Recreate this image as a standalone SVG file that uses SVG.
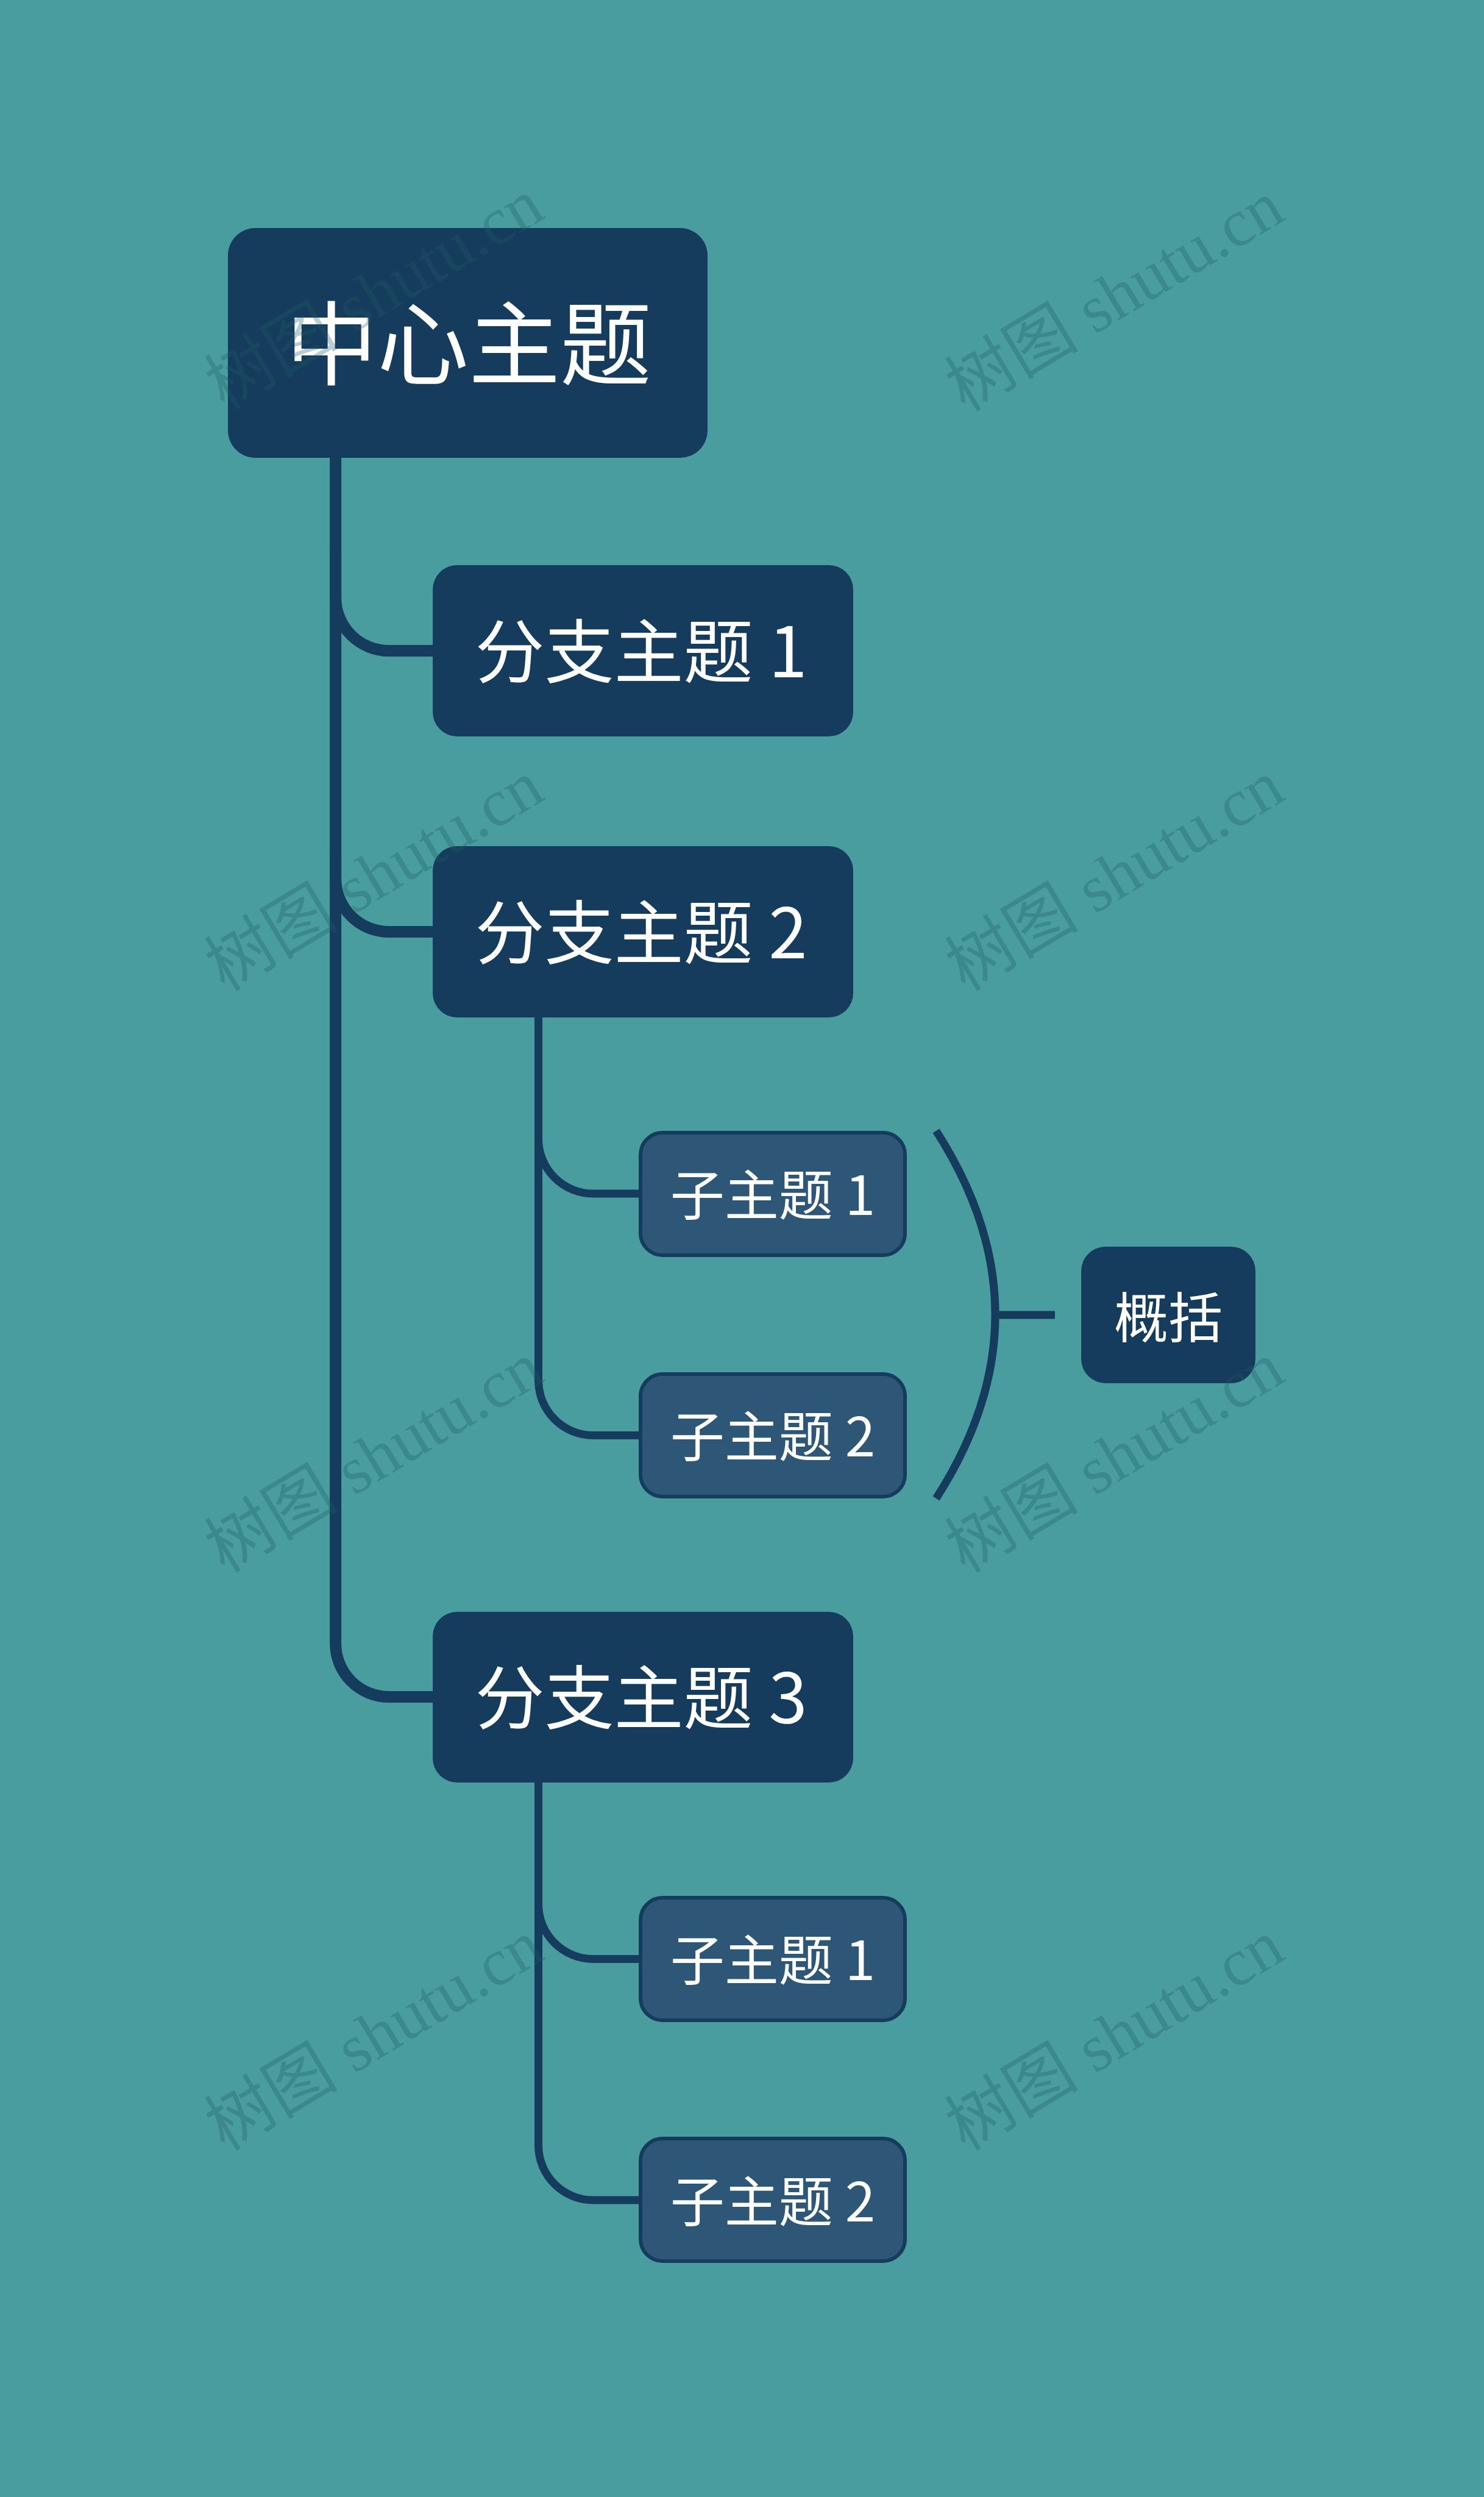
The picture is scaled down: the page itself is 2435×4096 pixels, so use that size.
<svg xmlns="http://www.w3.org/2000/svg" width="2435" height="4096" viewBox="0 0 2435 4096">
<defs>
<style>
.bg{fill:#4a9d9e}
.main{fill:#163c5d}
.sub{fill:#2e5676;stroke:#163c5d;stroke-width:6}
.t{font-family:"Noto Sans CJK SC","Microsoft YaHei","Noto Sans",sans-serif;fill:#ffffff;text-anchor:middle;dominant-baseline:central}
.c1{fill:none;stroke:#163c5d;stroke-width:19}
.c2{fill:none;stroke:#163c5d;stroke-width:13}
.wm{font-family:"Liberation Serif","Noto Sans CJK SC",serif;font-size:110px;fill:#1f5e66;opacity:0.3;text-anchor:middle;dominant-baseline:central}
</style>
</defs>
<rect class="bg" x="0" y="0" width="2435" height="4096"/>
<g id="connectors">
<path class="c1" d="M550.6 740 V2696 A87.5 87.5 0 0 0 638.1 2783.5 H714"/>
<path class="c1" d="M550.6 900 V980 A87.5 87.5 0 0 0 638.1 1067.5 H714"/>
<path class="c1" d="M550.6 1400 V1441 A87.5 87.5 0 0 0 638.1 1528.5 H714"/>
<path class="c2" d="M883.5 1660 V1868 A90 90 0 0 0 973.5 1958 H1050"/>
<path class="c2" d="M883.5 1660 V2264.5 A90 90 0 0 0 973.5 2354.5 H1050"/>
<path class="c2" d="M883.5 2915 V3123.5 A90 90 0 0 0 973.5 3213.5 H1050"/>
<path class="c2" d="M883.5 2915 V3519 A90 90 0 0 0 973.5 3609 H1050"/>
<path class="c2" d="M1536 1855 Q1730 2156.5 1536 2458"/>
<path class="c2" d="M1630 2157 H1731"/>
</g>
<g id="node-center">
<rect class="main" x="374" y="374" width="787" height="377" rx="45"/>
<text class="t" x="769" y="554" font-size="150">中心主题</text>
</g>
<g id="node-b1">
<rect class="main" x="710" y="927" width="690" height="281" rx="40"/>
<text class="t" x="1052" y="1061" font-size="114">分支主题 1</text>
</g>
<g id="node-b2">
<rect class="main" x="710" y="1388" width="690" height="281" rx="40"/>
<text class="t" x="1052" y="1522" font-size="114">分支主题 2</text>
</g>
<g id="node-b3">
<rect class="main" x="710" y="2644" width="690" height="280" rx="40"/>
<text class="t" x="1052" y="2777" font-size="114">分支主题 3</text>
</g>
<g id="node-s21">
<rect class="sub" x="1051" y="1858" width="434" height="201" rx="36"/>
<text class="t" x="1268" y="1954" font-size="89">子主题 1</text>
</g>
<g id="node-s22">
<rect class="sub" x="1051" y="2254" width="434" height="201" rx="36"/>
<text class="t" x="1268" y="2350.5" font-size="89">子主题 2</text>
</g>
<g id="node-s31">
<rect class="sub" x="1051" y="3113" width="434" height="201" rx="36"/>
<text class="t" x="1268" y="3209.5" font-size="89">子主题 1</text>
</g>
<g id="node-s32">
<rect class="sub" x="1051" y="3508" width="434" height="201" rx="36"/>
<text class="t" x="1268" y="3605" font-size="89">子主题 2</text>
</g>
<g id="node-summary">
<rect class="main" x="1774" y="2045" width="286" height="224" rx="40"/>
<text class="t" x="1917" y="2155" font-size="89">概括</text>
</g>
<g id="watermarks">
<text class="wm" transform="translate(614 483) rotate(-31)">树图 shutu.cn</text>
<text class="wm" transform="translate(1829 486) rotate(-31)">树图 shutu.cn</text>
<text class="wm" transform="translate(614 1437) rotate(-31)">树图 shutu.cn</text>
<text class="wm" transform="translate(1829 1437) rotate(-31)">树图 shutu.cn</text>
<text class="wm" transform="translate(614 2391) rotate(-31)">树图 shutu.cn</text>
<text class="wm" transform="translate(1829 2391) rotate(-31)">树图 shutu.cn</text>
<text class="wm" transform="translate(614 3339) rotate(-31)">树图 shutu.cn</text>
<text class="wm" transform="translate(1829 3339) rotate(-31)">树图 shutu.cn</text>
</g>
</svg>
